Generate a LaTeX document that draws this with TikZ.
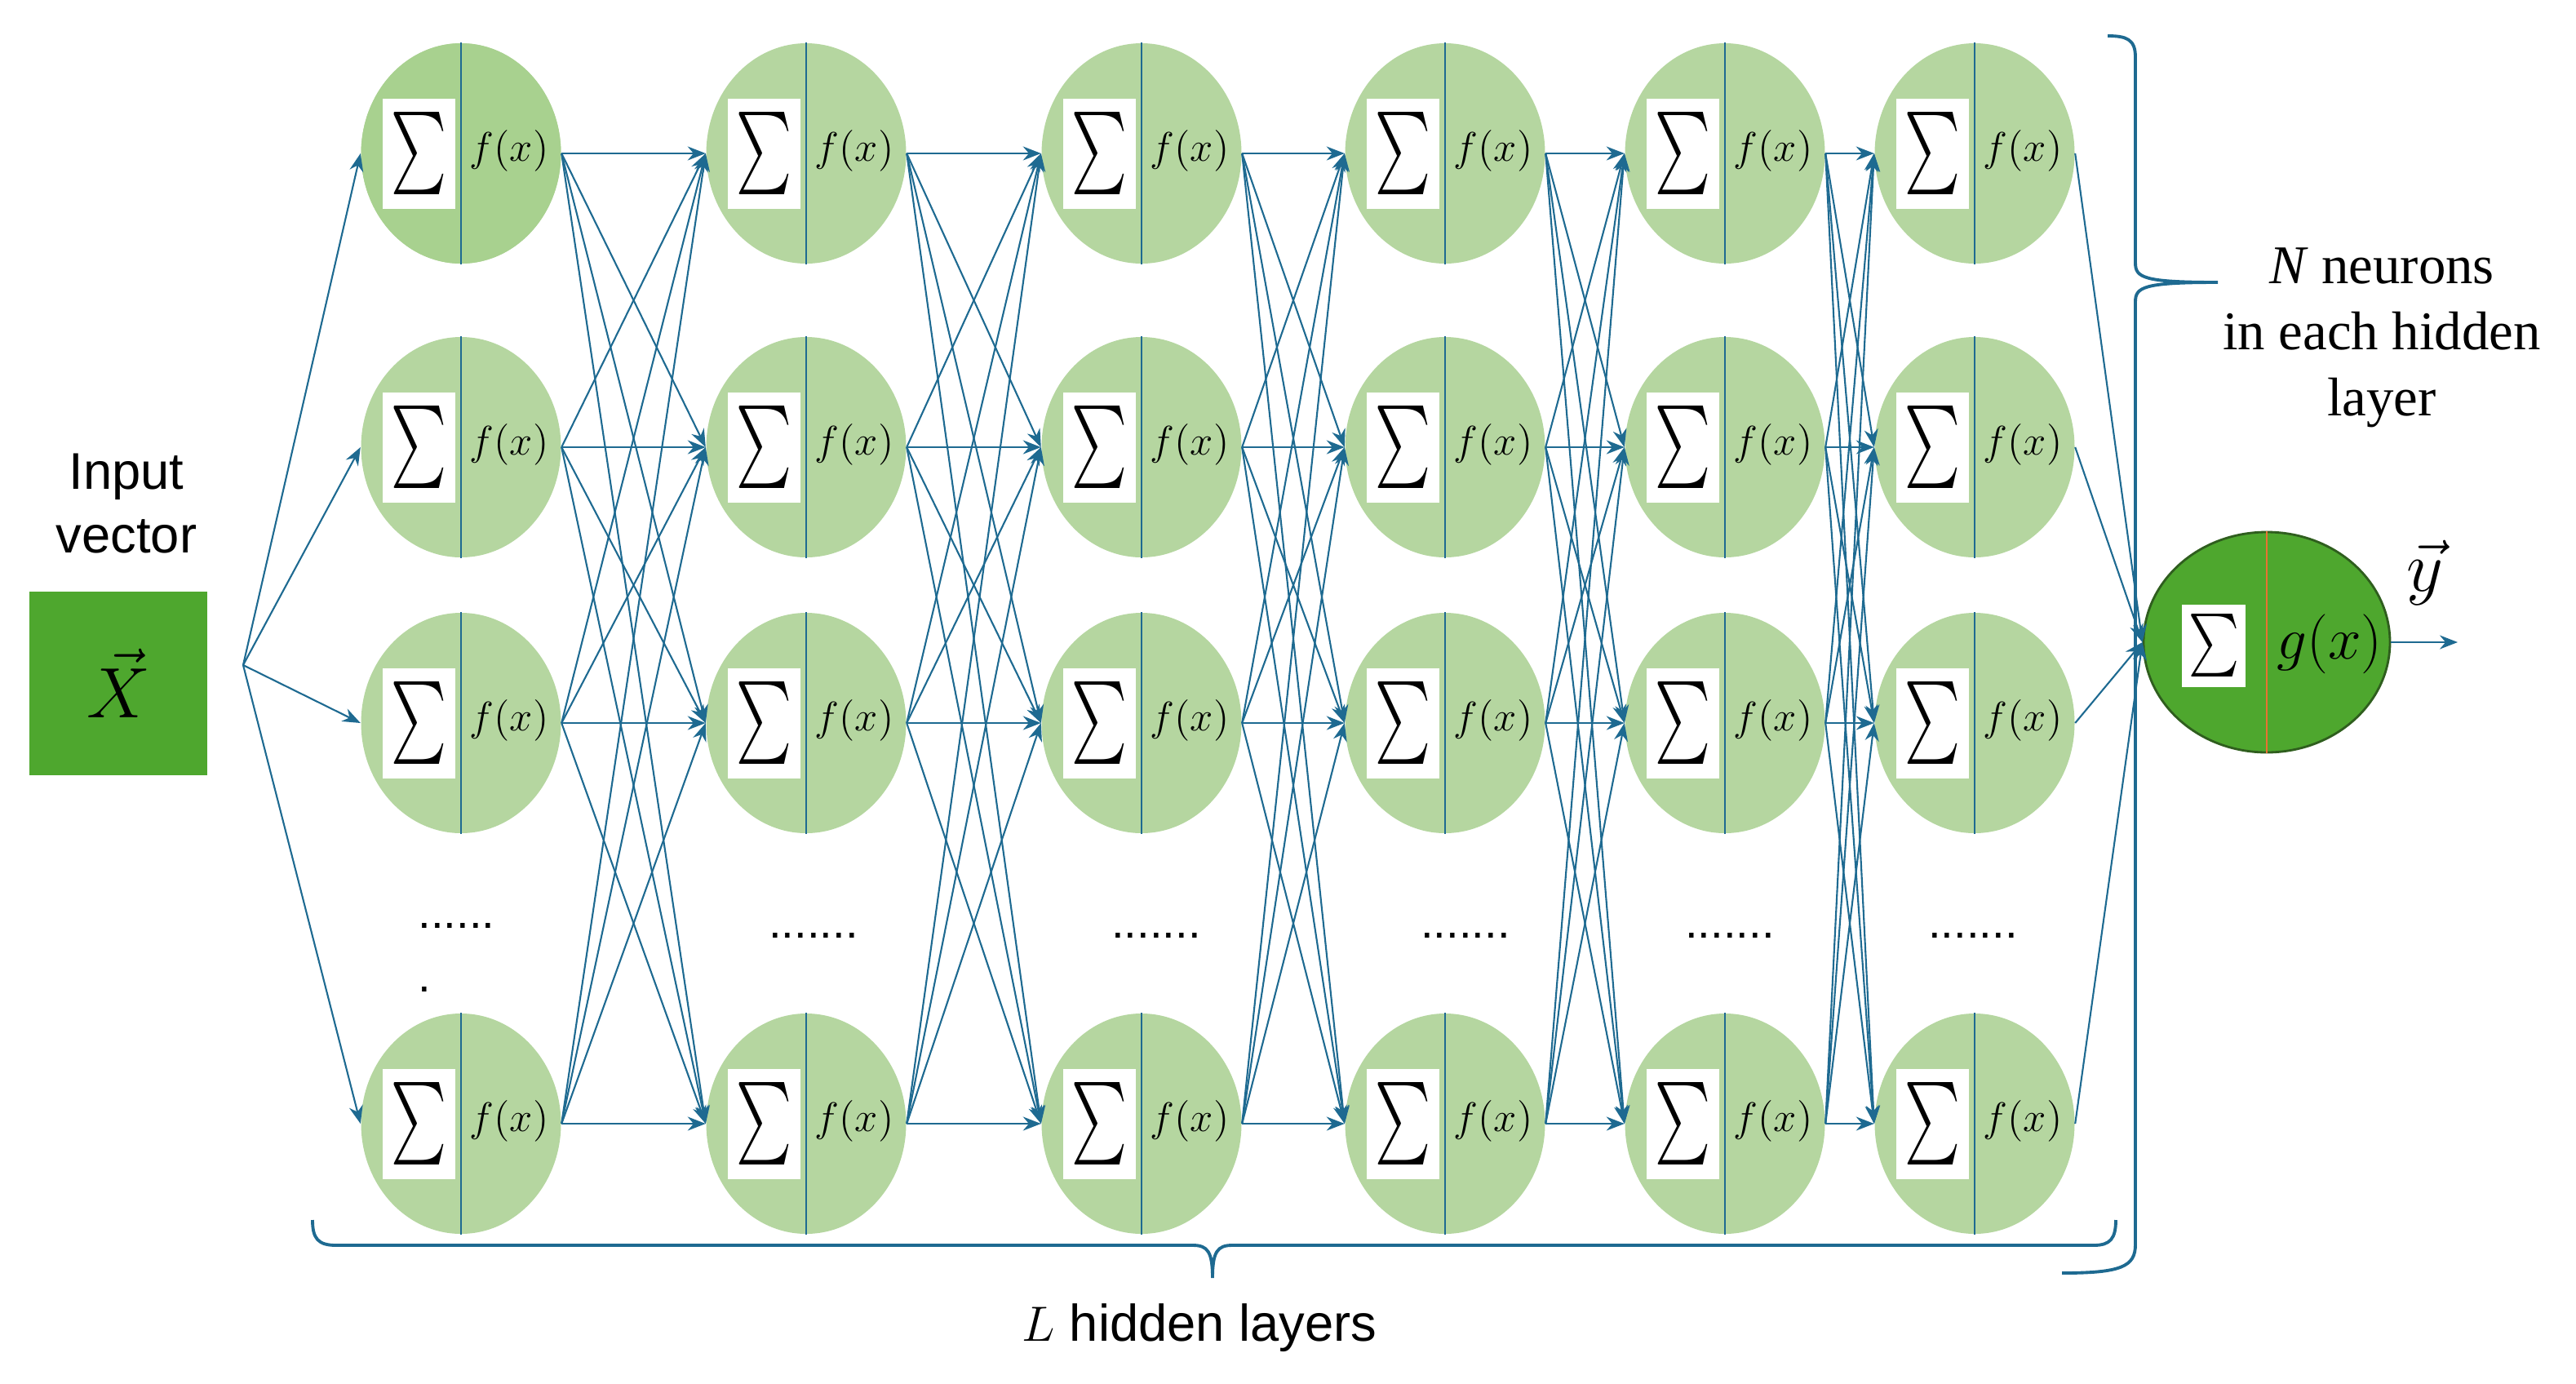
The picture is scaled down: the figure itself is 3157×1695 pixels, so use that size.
\documentclass[tikz,border=0pt]{standalone}
\usepackage{fontspec}
\usetikzlibrary{shapes.geometric,arrows.meta}
\newfontfamily\sansf{Liberation Sans}
\newfontfamily\seriff{Liberation Serif}
\definecolor{lineblue}{HTML}{1E6A91}
\definecolor{lgreen}{HTML}{B5D6A0}
\definecolor{lgreenA}{HTML}{A8D18F}
\definecolor{dgreen}{HTML}{4EA72E}
\definecolor{borderg}{HTML}{2F5E1E}
\definecolor{orangeline}{HTML}{E97132}
\begin{document}
\begin{tikzpicture}[x=0.1mm,y=-0.1mm,
  neuron/.style={ellipse, fill=lgreen, minimum width=24.5mm, minimum height=27mm, inner sep=0pt},
  outneuron/.style={ellipse, fill=dgreen, draw=borderg, line width=0.8pt, minimum width=30.2mm, minimum height=27mm, inner sep=0pt},
  sigbox/.style={fill=white, minimum width=8.9mm, minimum height=13.5mm, inner sep=0pt},
  osigbox/.style={fill=white, minimum width=7.8mm, minimum height=10.1mm, inner sep=0pt},
  ftext/.style={inner sep=0pt, font=\fontsize{14.5}{14.5}\selectfont},
  divider/.style={draw=lineblue, line width=0.6pt},
  conn/.style={draw=lineblue, line width=0.6pt, -{Stealth[length=2.2mm,width=1.7mm]}},
  bracepath/.style={draw=lineblue, line width=1.1pt},
  dots/.style={inner sep=0pt, font=\sansf\fontsize{16}{22}\selectfont},
]
\useasboundingbox (0,0) rectangle (3157,1695);

% hidden neurons
\foreach \c/\x in {1/565,2/988,3/1399,4/1771,5/2114,6/2420}{
  \foreach \r/\y in {1/188,2/548,3/886,4/1377}{
    \node[neuron] (n\c\r) at (\x,\y) {};
    \draw[divider] (n\c\r.north) -- (n\c\r.south);
    \node[sigbox] (s\c\r) at ([xshift=-5.15mm]n\c\r.center) {\resizebox*{6.8mm}{10.1mm}{$\sum$}};
    \node[ftext] (f\c\r) at ([xshift=5.9mm,yshift=0.3mm]n\c\r.center) {$f(x)$};
  }
}
\node[neuron, fill=lgreenA] (n11) at (565,188) {};
\draw[divider] (n11.north) -- (n11.south);
\node[sigbox] (s11) at ([xshift=-5.15mm]n11.center) {\resizebox*{6.8mm}{10.1mm}{$\sum$}};
\node[ftext] (f11) at ([xshift=5.9mm,yshift=0.3mm]n11.center) {$f(x)$};

% dots
\node[dots, align=left, anchor=north west] (d1) at (512,1131) {......\\.};
\foreach \c/\x in {2/997,3/1417,4/1796,5/2120,6/2418}{
  \node[dots] (d\c) at (\x,1146) {.......};
}

% input
\node[fill=dgreen, minimum width=21.8mm, minimum height=22.5mm, inner sep=0pt, font=\fontsize{34}{34}\selectfont] (inbox) at (145,837) {$\vec{X}$\hspace{1.2mm}};
\node[align=center, font=\sansf\fontsize{18}{22}\selectfont] (inlbl) at (155,617) {Input\\vector};
\coordinate (fan) at (298,815);

% output neuron
\node[outneuron] (out) at (2778,787) {};
\draw[draw=orangeline, line width=0.6pt] (out.north) -- (out.south);
\node[osigbox] (osig) at (2713,791) {\resizebox*{6.2mm}{7.7mm}{$\sum$}};
\node[inner sep=0pt, font=\fontsize{20}{20}\selectfont] (gx) at (2855,789) {$g(x)$};
\coordinate (yend) at (3012,787);
\node[inner sep=0pt, font=\fontsize{28}{28}\selectfont] (ylbl) at (2972,702) {$\vec{y}$};

% connections
\foreach \r in {1,...,4}{
  \draw[conn] (fan) -- (n1\r.west);
}
\foreach \c in {1,...,5}{
  \pgfmathtruncatemacro{\nc}{\c+1}
  \foreach \r in {1,...,4}{
    \foreach \s in {1,...,4}{
      \draw[conn] (n\c\r.east) -- (n\nc\s.west);
    }
  }
}
\foreach \r in {1,...,4}{
  \draw[conn] (n6\r.east) -- (out.west);
}
\draw[conn] (out.east) -- (yend);

% braces
\draw[bracepath] (383,1495) .. controls (383,1518) and (390,1526) .. (412,1526)
  -- (1462,1526) .. controls (1480,1526) and (1486,1534) .. (1486,1566)
  .. controls (1486,1534) and (1492,1526) .. (1510,1526)
  -- (2566,1526) .. controls (2586,1526) and (2593,1518) .. (2593,1495);
\draw[bracepath] (2583,44) .. controls (2606,44) and (2617,48) .. (2617,70)
  -- (2617,322) .. controls (2617,340) and (2626,346) .. (2718,346)
  .. controls (2626,346) and (2617,352) .. (2617,370)
  -- (2617,1525) .. controls (2617,1552) and (2600,1560) .. (2527,1560);

% labels
\node[align=center, font=\seriff\fontsize{19}{23}\selectfont] (nlbl) at (2919,414) {\textit{N} neurons\\in each hidden\\layer};
\node[font=\sansf\fontsize{18}{22}\selectfont] (llbl) at (1470,1627) {$L$ hidden layers};
\end{tikzpicture}
\end{document}
